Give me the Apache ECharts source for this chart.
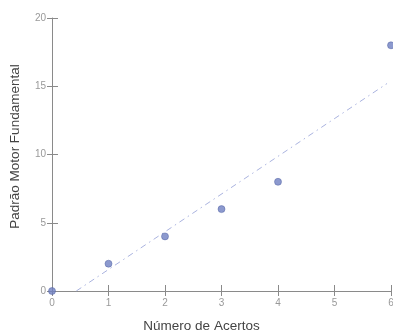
<!DOCTYPE html>
<html><head><meta charset="utf-8">
<script src="https://cdn.jsdelivr.net/npm/echarts@6/dist/echarts.min.js"></script>
<style>html,body{margin:0;padding:0;background:#fff}#c{width:393px;height:331px}</style>
</head><body><div id="c"></div>
<script>
const xTicks = [0,1,2,3,4,5,6];
const yTicks = [0,5,10,15,20];
const acertos = [0,1,2,3,4,6];
const padrao = [0,2,4,6,8,18];
const trendX = [0.43, 5.93];
const trendY = [0, 15.2];

const chart = echarts.init(document.getElementById('c'), null, {renderer:'canvas'});
const axisCol = '#8a8a8a';
const labelCol = '#999';
const xBase = {type:'value',min:xTicks[0],max:xTicks[xTicks.length-1],interval:1,splitLine:{show:false}};
const yBase = {type:'value',min:yTicks[0],max:yTicks[yTicks.length-1],interval:5,splitLine:{show:false}};
chart.setOption({
  animation:false,
  grid:{left:52,right:2,top:18,bottom:40,outerBoundsMode:'none',containLabel:false},
  xAxis:[Object.assign({},xBase,{
    axisLine:{show:true,lineStyle:{color:axisCol,width:1}},
    axisTick:{show:true,length:5,lineStyle:{color:axisCol}},
    axisLabel:{color:labelCol,fontSize:10,fontFamily:'Liberation Sans',margin:7},
    name:'Número de Acertos',nameLocation:'middle',nameGap:28,
    nameTextStyle:{color:'#444',fontSize:13.5,fontFamily:'Liberation Sans',padding:[0,40,0,0]}
  }),Object.assign({},xBase,{
    position:'bottom',
    axisLine:{show:false},
    axisTick:{show:true,inside:true,length:6,lineStyle:{color:axisCol}},
    axisLabel:{show:false}
  })],
  yAxis:[Object.assign({},yBase,{
    axisLine:{show:true,lineStyle:{color:axisCol,width:1}},
    axisTick:{show:true,length:5,lineStyle:{color:axisCol}},
    axisLabel:{color:labelCol,fontSize:10,fontFamily:'Liberation Sans',margin:6},
    name:'Padrão Motor Fundamental',nameLocation:'middle',nameGap:30,nameRotate:90,
    nameTextStyle:{color:'#444',fontSize:13.5,fontFamily:'Liberation Sans',padding:[0,0,0,16]}
  }),Object.assign({},yBase,{
    position:'left',
    axisLine:{show:false},
    axisTick:{show:true,inside:true,length:6,lineStyle:{color:axisCol}},
    axisLabel:{show:false}
  })],
  series:[{
    type:'line',
    data:trendX.map((x,i)=>[x,trendY[i]]),
    showSymbol:false,symbol:'none',
    lineStyle:{color:'#aab3df',width:1,type:[6,4,1.5,4]},
    z:1
  },{
    type:'scatter',
    data:acertos.map((x,i)=>[x,padrao[i]]),
    symbolSize:7,
    itemStyle:{color:'#6f80c2',borderColor:'#4f5fa0',borderWidth:0.6},
    z:3
  }]
});
</script></body></html>
